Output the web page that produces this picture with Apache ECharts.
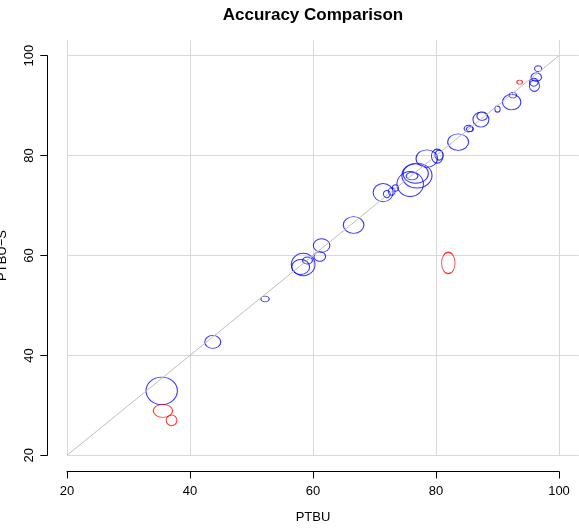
<!DOCTYPE html>
<html>
<head>
<meta charset="utf-8">
<script src="https://cdn.jsdelivr.net/npm/echarts@6/dist/echarts.min.js"></script>
<style>
  html, body { margin: 0; padding: 0; background: #fff; }
  #chart { width: 579px; height: 528px; }
</style>
</head>
<body>
<div id="chart"></div>
<script>
// 数据 (PTBU, PTBU-S, 以及椭圆的宽/高，单位与坐标轴相同)
const blueX = [35.4, 43.7, 52.2, 58.4, 58.0, 59.1, 61.1, 61.4, 66.6, 71.4, 72.0, 72.8, 73.4, 75.8, 76.7, 76.9, 76.1, 78.5, 80.2, 80.5, 83.6, 85.3, 85.5, 87.3, 87.5, 90.0, 92.3, 92.5, 96.6, 96.3, 95.9, 96.0];
const blueY = [32.9, 42.7, 51.3, 58.2, 57.7, 59.0, 59.8, 62.0, 66.1, 72.6, 72.3, 72.8, 73.5, 74.3, 76.4, 76.0, 75.9, 79.4, 79.9, 80.1, 82.7, 85.4, 85.3, 87.2, 87.9, 89.3, 90.7, 92.1, 97.4, 95.7, 94.7, 94.0];
const blueW = [5.1, 2.6, 1.35, 3.85, 2.9, 1.6, 1.9, 2.7, 3.35, 3.25, 1.1, 1.1, 1.0, 4.3, 4.1, 4.9, 1.9, 3.5, 1.9, 1.35, 3.4, 1.45, 1.1, 2.6, 1.7, 0.87, 3.0, 1.2, 1.15, 1.7, 1.4, 1.65];
const blueH = [5.5, 2.6, 1.15, 4.5, 3.0, 1.4, 1.9, 2.7, 3.35, 3.65, 1.45, 1.5, 1.3, 5.0, 3.9, 5.0, 1.5, 3.5, 2.8, 2.0, 3.3, 1.35, 1.0, 3.0, 1.7, 1.2, 3.1, 1.1, 1.15, 1.7, 1.6, 2.3];

const redX = [35.6, 37.0, 82.0, 93.6];
const redY = [28.9, 27.0, 58.5, 94.7];
const redW = [3.15, 1.75, 2.2, 0.9];
const redH = [2.6, 2.15, 4.3, 0.8];

// 坐标轴刻度
const axisTicks = [20, 40, 60, 80, 100];
const diagonal = [20, 100];

const titleText = 'Accuracy Comparison';
const xName = 'PTBU';
const yName = 'PTBU\u2212S';

// 布局
const plotLeft = 67, plotTop = 39.7, plotRight = 0.3, plotBottom = 72.7;
const regionMax = 103.2;
const axisMin = axisTicks[0], axisMax = axisTicks[axisTicks.length - 1];
const kx = (579 - plotLeft - plotRight) / (regionMax - axisMin);
const ky = (528 - plotTop - plotBottom) / (regionMax - axisMin);

const ellipsePath = 'path://M1,0C1.5523,0,2,0.4477,2,1C2,1.5523,1.5523,2,1,2C0.4477,2,0,1.5523,0,1C0,0.4477,0.4477,0,1,0Z';
const fontFamily = '"Liberation Sans", Arial, Helvetica, sans-serif';

function zip(xs, ys, ws, hs) {
    return xs.map((x, i) => [x, ys[i], ws[i], hs[i]]);
}

function ellipseSeries(name, color, data) {
    return {
        name: name,
        type: 'scatter',
        xAxisIndex: 0,
        yAxisIndex: 0,
        data: data,
        symbol: ellipsePath,
        symbolKeepAspect: false,
        symbolSize: function (v) { return [v[2] * kx, v[3] * ky]; },
        itemStyle: { color: 'rgba(0,0,0,0)', borderColor: color, borderWidth: 1 },
        emphasis: { disabled: true },
        clip: false,
        silent: true,
        animation: false
    };
}

const chart = echarts.init(document.getElementById('chart'));
const gridAxis = {
    type: 'value',
    min: axisMin,
    max: regionMax,
    interval: 20,
    axisLine: { show: false },
    axisTick: { show: false },
    axisLabel: { show: false },
    splitLine: { show: true, showMaxLine: false, lineStyle: { color: '#d9d9d9', width: 1 } }
};

chart.setOption({
    animation: false,
    backgroundColor: '#ffffff',
    textStyle: { fontFamily: fontFamily },
    graphic: [{
        type: 'text',
        x: (plotLeft - 19.7 + 579 - plotRight) / 2,
        y: 15,
        style: {
            text: titleText,
            font: 'bold 17px ' + fontFamily,
            fill: '#000',
            textAlign: 'center',
            textVerticalAlign: 'middle'
        }
    }],
    grid: [
        { left: plotLeft, top: plotTop, right: plotRight, bottom: plotBottom, containLabel: false, outerBoundsMode: 'none' },
        { left: plotLeft, top: 55.7, right: 20, bottom: plotBottom, containLabel: false, outerBoundsMode: 'none' }
    ],
    xAxis: [
        Object.assign({ gridIndex: 0 }, gridAxis),
        {
            gridIndex: 1,
            type: 'value',
            min: axisMin,
            max: axisMax,
            interval: 20,
            position: 'bottom',
            offset: 16.2,
            name: xName,
            nameLocation: 'middle',
            nameGap: 39,
            nameTextStyle: { fontSize: 13, color: '#000' },
            axisLine: { show: true, lineStyle: { color: '#000', width: 1 } },
            axisTick: { show: true, length: 7, lineStyle: { color: '#000' } },
            axisLabel: { fontSize: 13, color: '#000', margin: 13 },
            splitLine: { show: false }
        }
    ],
    yAxis: [
        Object.assign({ gridIndex: 0 }, gridAxis),
        {
            gridIndex: 1,
            type: 'value',
            min: axisMin,
            max: axisMax,
            interval: 20,
            position: 'left',
            offset: 19.7,
            name: yName,
            nameLocation: 'middle',
            nameGap: 38,
            nameTextStyle: { fontSize: 13, color: '#000' },
            axisLine: { show: true, lineStyle: { color: '#000', width: 1 } },
            axisTick: { show: true, length: 7, lineStyle: { color: '#000' } },
            axisLabel: { fontSize: 13, color: '#000', rotate: 90, margin: 11 },
            splitLine: { show: false }
        }
    ],
    series: [
        {
            type: 'line',
            xAxisIndex: 0,
            yAxisIndex: 0,
            data: [[diagonal[0], diagonal[0]], [diagonal[1], diagonal[1]]],
            symbol: 'none',
            lineStyle: { color: '#bebebe', width: 1 },
            silent: true
        },
        ellipseSeries('PTBU-S (blue)', '#0000ff', zip(blueX, blueY, blueW, blueH)),
        ellipseSeries('PTBU-S (red)', '#ff0000', zip(redX, redY, redW, redH))
    ]
});
</script>
</body>
</html>
